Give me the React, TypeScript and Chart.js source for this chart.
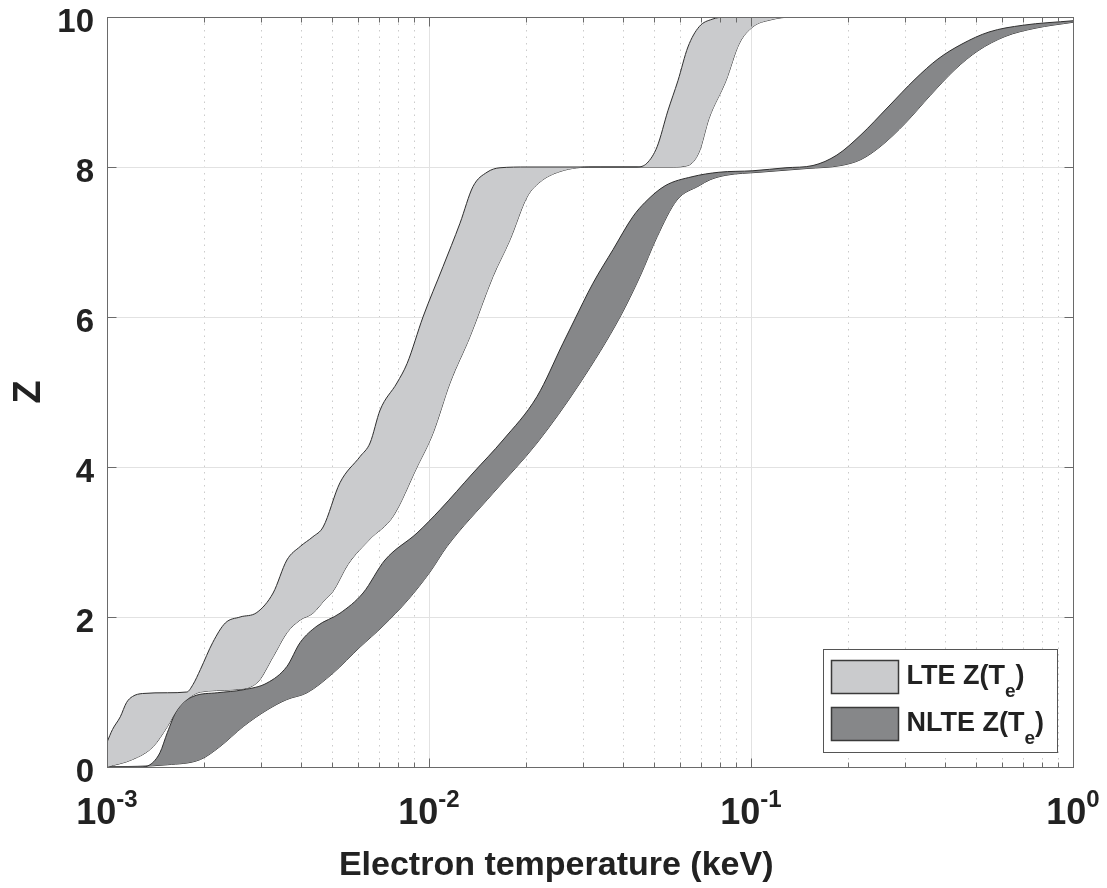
import React, { useEffect, useRef } from "react";
import { Chart, registerables } from "chart.js";

Chart.register(...registerables);

// ---------- data (electron temperature in keV, mean charge Z) ----------
const lteUpperT = [0.001, 0.00104, 0.0011, 0.00115, 0.0012, 0.00129, 0.00154, 0.00177, 0.00185, 0.00195, 0.00213, 0.00233, 0.00259, 0.00292, 0.00328, 0.00362, 0.00398, 0.00436, 0.00469, 0.00529, 0.00611, 0.00656, 0.00705, 0.00795, 0.00855, 0.00958, 0.01105, 0.01248, 0.0137, 0.01514, 0.01662, 0.02016, 0.034, 0.0443, 0.0475, 0.0511, 0.0552, 0.0593, 0.0637, 0.069, 0.0757, 0.0836, 0.1067, 1.0];
const lteUpperZ = [0.33, 0.5, 0.67, 0.86, 0.94, 0.98, 0.99, 1.0, 1.1, 1.3, 1.66, 1.92, 2.0, 2.06, 2.32, 2.76, 2.94, 3.07, 3.2, 3.79, 4.14, 4.32, 4.76, 5.12, 5.38, 6.0, 6.67, 7.25, 7.74, 7.93, 7.99, 8.0, 8.0, 8.0, 8.05, 8.27, 8.75, 9.15, 9.6, 9.87, 9.97, 10.0, 10.0, 10.0];

const lteLowerT = [0.001, 0.0012, 0.00139, 0.00154, 0.00165, 0.00177, 0.00195, 0.00246, 0.00292, 0.00328, 0.00362, 0.00398, 0.00436, 0.00475, 0.00503, 0.0056, 0.00656, 0.00773, 0.00918, 0.01029, 0.01162, 0.01341, 0.0158, 0.01785, 0.02016, 0.02212, 0.02552, 0.0323, 0.0573, 0.0637, 0.069, 0.0741, 0.0836, 0.0918, 0.1014, 0.1146, 0.135, 1.0];
const lteLowerZ = [0.0, 0.1, 0.27, 0.54, 0.76, 0.9, 1.0, 1.03, 1.12, 1.47, 1.79, 1.96, 2.05, 2.23, 2.34, 2.7, 3.04, 3.34, 4.0, 4.45, 5.12, 5.74, 6.54, 7.03, 7.6, 7.8, 7.94, 8.0, 8.0, 8.02, 8.2, 8.65, 9.15, 9.64, 9.87, 9.96, 10.0, 10.0];

const nlteUpperT = [0.001, 0.00127, 0.00136, 0.00146, 0.00154, 0.00165, 0.00185, 0.0022, 0.00265, 0.00314, 0.00362, 0.00398, 0.00449, 0.00529, 0.00624, 0.0073, 0.00918, 0.01082, 0.0137, 0.01698, 0.02165, 0.02607, 0.028, 0.0323, 0.0373, 0.043, 0.0469, 0.0541, 0.0656, 0.0795, 0.1014, 0.1284, 0.1558, 0.1849, 0.2196, 0.2665, 0.3231, 0.3807, 0.4521, 0.5483, 0.699, 1.0];
const nlteUpperZ = [0.0, 0.0, 0.03, 0.19, 0.46, 0.76, 0.94, 0.99, 1.03, 1.12, 1.34, 1.66, 1.88, 2.05, 2.32, 2.76, 3.12, 3.43, 3.92, 4.36, 4.94, 5.65, 5.92, 6.45, 6.9, 7.34, 7.53, 7.75, 7.87, 7.93, 7.95, 7.99, 8.02, 8.16, 8.43, 8.8, 9.17, 9.44, 9.64, 9.8, 9.89, 9.95];

const nlteLowerT = [0.001, 0.00154, 0.00195, 0.00224, 0.00265, 0.00314, 0.00362, 0.00418, 0.00503, 0.00611, 0.0072, 0.00861, 0.01007, 0.01137, 0.0158, 0.02165, 0.02944, 0.0392, 0.0452, 0.0511, 0.0589, 0.069, 0.0746, 0.0836, 0.1059, 0.1492, 0.1903, 0.2196, 0.2534, 0.3008, 0.3596, 0.4301, 0.507, 0.6149, 0.7621, 1.0];
const nlteLowerZ = [0.0, 0.03, 0.1, 0.27, 0.54, 0.76, 0.9, 0.99, 1.25, 1.6, 1.88, 2.23, 2.6, 2.94, 3.65, 4.32, 5.12, 6.0, 6.54, 7.07, 7.56, 7.75, 7.83, 7.89, 7.93, 7.98, 8.02, 8.1, 8.28, 8.58, 8.95, 9.3, 9.55, 9.74, 9.85, 9.93];

const xTickValues = [0.001, 0.01, 0.1, 1];
const xTickBase = "10";
const xTickExponents = ["-3", "-2", "-1", "0"];
const yTickValues = [0, 2, 4, 6, 8, 10];
const yTickLabels = ["0", "2", "4", "6", "8", "10"];

const legendMain = ["LTE Z(T", "NLTE Z(T"];
const legendSub = ["e", "e"];
const legendTail = [")", ")"];

const xTitle = "Electron temperature (keV)";
const yTitle = "Z";

// ---------- styles ----------
const FONT = '"Liberation Sans", Arial, Helvetica, sans-serif';
const LIGHT = "#cacbcd";
const DARK = "#868789";
const EDGE = "#2e2e2e";
const TEXT = "#222222";
const AXIS = "#6a6a6a";

const CANVAS_W = 1107;
const CANVAS_H = 888;

const framePlugin = {
  id: "matlabFrame",
  beforeDatasetsDraw(chart: any) {
    const { ctx, chartArea: a, scales } = chart;
    const x = scales.x;
    const y = scales.y;
    ctx.save();
    ctx.lineWidth = 1;
    ctx.strokeStyle = "#cbcbcb";
    ctx.setLineDash([1.5, 5]);
    for (let i = 0; i < xTickValues.length - 1; i++) {
      for (let k = 2; k <= 9; k++) {
        const px = Math.round(x.getPixelForValue(xTickValues[i] * k)) + 0.5;
        ctx.beginPath();
        ctx.moveTo(px, a.top);
        ctx.lineTo(px, a.bottom);
        ctx.stroke();
      }
    }
    ctx.setLineDash([]);
    ctx.strokeStyle = "#e2e2e2";
    for (const v of xTickValues) {
      const px = Math.round(x.getPixelForValue(v)) + 0.5;
      ctx.beginPath();
      ctx.moveTo(px, a.top);
      ctx.lineTo(px, a.bottom);
      ctx.stroke();
    }
    for (const v of yTickValues) {
      const py = Math.round(y.getPixelForValue(v)) + 0.5;
      ctx.beginPath();
      ctx.moveTo(a.left, py);
      ctx.lineTo(a.right, py);
      ctx.stroke();
    }
    ctx.restore();
  },
  afterDatasetsDraw(chart: any) {
    const { ctx, chartArea: a, scales } = chart;
    const x = scales.x;
    const y = scales.y;
    ctx.save();
    ctx.lineWidth = 1;
    ctx.strokeStyle = AXIS;
    const L = Math.round(a.left) + 0.5;
    const R = Math.round(a.right) + 0.5;
    const T = Math.round(a.top) + 0.5;
    const B = Math.round(a.bottom) + 0.5;
    ctx.strokeRect(L, T, R - L, B - T);
    const seg = (x1: number, y1: number, x2: number, y2: number) => {
      ctx.beginPath();
      ctx.moveTo(x1, y1);
      ctx.lineTo(x2, y2);
      ctx.stroke();
    };
    for (let i = 0; i < xTickValues.length; i++) {
      const px = Math.round(x.getPixelForValue(xTickValues[i])) + 0.5;
      seg(px, B, px, B - 9);
      seg(px, T, px, T + 9);
      if (i < xTickValues.length - 1) {
        for (let k = 2; k <= 9; k++) {
          const pm = Math.round(x.getPixelForValue(xTickValues[i] * k)) + 0.5;
          seg(pm, B, pm, B - 5);
          seg(pm, T, pm, T + 5);
        }
      }
    }
    for (const v of yTickValues) {
      const py = Math.round(y.getPixelForValue(v)) + 0.5;
      seg(L, py, L + 9, py);
      seg(R, py, R - 9, py);
    }
    ctx.restore();
  },
  afterDraw(chart: any) {
    const { ctx, chartArea: a, scales } = chart;
    const x = scales.x;
    const y = scales.y;
    ctx.save();
    ctx.fillStyle = TEXT;
    ctx.textBaseline = "alphabetic";

    // y tick labels
    ctx.textAlign = "right";
    ctx.font = `bold 33px ${FONT}`;
    for (let i = 0; i < yTickValues.length; i++) {
      const py = y.getPixelForValue(yTickValues[i]);
      ctx.fillText(yTickLabels[i], a.left - 13, py + 14.5);
    }

    // x tick labels with superscript exponents
    ctx.textAlign = "left";
    for (let i = 0; i < xTickValues.length; i++) {
      const px = x.getPixelForValue(xTickValues[i]);
      ctx.font = `bold 36px ${FONT}`;
      const w1 = ctx.measureText(xTickBase).width;
      ctx.font = `bold 24px ${FONT}`;
      const w2 = ctx.measureText(xTickExponents[i]).width;
      const start = px - (w1 + w2) / 2;
      ctx.font = `bold 36px ${FONT}`;
      ctx.fillText(xTickBase, start, a.bottom + 57);
      ctx.font = `bold 24px ${FONT}`;
      ctx.fillText(xTickExponents[i], start + w1, a.bottom + 40);
    }

    // axis titles
    ctx.font = `bold 34px ${FONT}`;
    ctx.textAlign = "center";
    ctx.fillText(xTitle, a.left + (a.right - a.left) * 0.465, a.bottom + 108);
    ctx.save();
    ctx.font = `bold 38px ${FONT}`;
    ctx.translate(a.left - 67, (a.top + a.bottom) / 2);
    ctx.rotate(-Math.PI / 2);
    ctx.fillText(yTitle, 0, 0);
    ctx.restore();

    // legend box inside the axes, bottom right
    const bw = 234;
    const bh = 103;
    const bx = Math.round(a.right - 16 - bw) + 0.5;
    const by = Math.round(a.bottom - 15 - bh) + 0.5;
    ctx.fillStyle = "#ffffff";
    ctx.fillRect(bx, by, bw, bh);
    ctx.strokeStyle = "#555555";
    ctx.lineWidth = 1;
    ctx.strokeRect(bx, by, bw, bh);
    const colors = [LIGHT, DARK];
    ctx.textAlign = "left";
    for (let i = 0; i < legendMain.length; i++) {
      const sy = by + 11 + i * 47;
      ctx.fillStyle = colors[i];
      ctx.fillRect(bx + 8, sy, 67, 33);
      ctx.strokeStyle = "#3a3a3a";
      ctx.lineWidth = 1.5;
      ctx.strokeRect(bx + 8, sy, 67, 33);
      const base = by + 34 + i * 47;
      ctx.fillStyle = TEXT;
      ctx.font = `bold 27px ${FONT}`;
      let tx = bx + 83;
      ctx.fillText(legendMain[i], tx, base);
      tx += ctx.measureText(legendMain[i]).width;
      ctx.font = `bold 19px ${FONT}`;
      ctx.fillText(legendSub[i], tx, base + 13);
      tx += ctx.measureText(legendSub[i]).width;
      ctx.font = `bold 27px ${FONT}`;
      ctx.fillText(legendTail[i], tx, base);
    }
    ctx.restore();
  },
};

function band(label: string, T: number[], Z: number[], fill: any, color: string) {
  return {
    label,
    data: T.map((t, i) => ({ x: t, y: Z[i] })),
    borderColor: EDGE,
    borderWidth: 1,
    pointRadius: 0,
    pointHoverRadius: 0,
    fill,
    backgroundColor: color,
    cubicInterpolationMode: "monotone" as const,
  };
}

export default function App() {
  const canvasRef = useRef<HTMLCanvasElement | null>(null);

  useEffect(() => {
    if (!canvasRef.current) return;
    const chart = new Chart(canvasRef.current, {
      type: "line",
      data: {
        datasets: [
          band("LTE upper", lteUpperT, lteUpperZ, "+1", LIGHT),
          band("LTE lower", lteLowerT, lteLowerZ, false, LIGHT),
          band("NLTE upper", nlteUpperT, nlteUpperZ, "+1", DARK),
          band("NLTE lower", nlteLowerT, nlteLowerZ, false, DARK),
        ] as any,
      },
      options: {
        animation: false,
        responsive: false,
        events: [],
        layout: { padding: { top: 17, right: 34, left: 0, bottom: 0 } },
        plugins: {
          legend: { display: false },
          tooltip: { enabled: false },
        },
        scales: {
          x: {
            type: "logarithmic",
            min: 0.001,
            max: 1,
            grid: { display: false, drawTicks: false },
            border: { display: false },
            ticks: { display: false },
            title: { display: false },
            afterFit(scale: any) {
              scale.height = 121;
              scale.paddingLeft = 0;
              scale.paddingRight = 0;
            },
          },
          y: {
            type: "linear",
            min: 0,
            max: 10,
            grid: { display: false, drawTicks: false },
            border: { display: false },
            ticks: { display: false },
            title: { display: false },
            afterFit(scale: any) {
              scale.width = 107;
              scale.paddingTop = 0;
              scale.paddingBottom = 0;
            },
          },
        },
      } as any,
      plugins: [framePlugin],
    });
    return () => chart.destroy();
  }, []);

  return (
    <div style={{ position: "absolute", left: 0, top: 0, width: CANVAS_W, height: CANVAS_H }}>
      <canvas ref={canvasRef} width={CANVAS_W} height={CANVAS_H} style={{ display: "block" }} />
    </div>
  );
}
